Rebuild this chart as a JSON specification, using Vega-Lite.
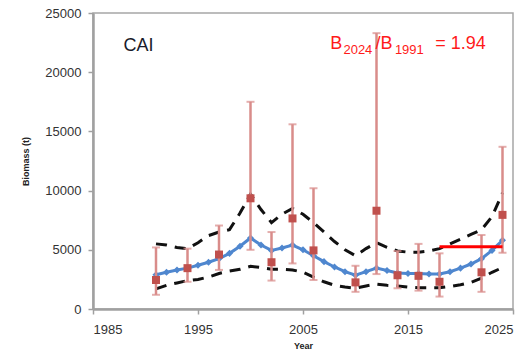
{
  "$schema": "https://vega.github.io/schema/vega-lite/v6.json",
  "width": 420,
  "height": 296,
  "autosize": "none",
  "padding": {"left": 93, "top": 13, "right": 14, "bottom": 49},
  "background": "white",
  "config": {
    "font": "Liberation Sans",
    "view": {"stroke": "#a6a6a6", "strokeWidth": 1.5},
    "axis": {
      "grid": false,
      "domainColor": "#a0a0a0",
      "domainWidth": 2.5,
      "tickColor": "#a0a0a0",
      "tickWidth": 1.5,
      "tickSize": 5,
      "labelFont": "Liberation Sans",
      "labelFontSize": 13,
      "labelColor": "#333333",
      "labelPadding": 7,
      "titleFont": "Liberation Sans",
      "titleFontSize": 9,
      "titleFontWeight": "bold",
      "titleColor": "#222222"
    }
  },
  "datasets": {
    "model": [
      {"year": 1991, "est": 2900, "lo": 1700, "hi": 5500},
      {"year": 1992, "est": 3100, "lo": 2000, "hi": 5400},
      {"year": 1993, "est": 3300, "lo": 2200, "hi": 5200},
      {"year": 1994, "est": 3450, "lo": 2400, "hi": 5100},
      {"year": 1995, "est": 3700, "lo": 2500, "hi": 5600},
      {"year": 1996, "est": 3950, "lo": 2700, "hi": 6200},
      {"year": 1997, "est": 4250, "lo": 3000, "hi": 6500},
      {"year": 1998, "est": 4700, "lo": 3200, "hi": 6700},
      {"year": 1999, "est": 5300, "lo": 3350, "hi": 8100},
      {"year": 2000, "est": 6000, "lo": 3600, "hi": 9700},
      {"year": 2001, "est": 5400, "lo": 3500, "hi": 8400},
      {"year": 2002, "est": 4950, "lo": 3350, "hi": 7300},
      {"year": 2003, "est": 5150, "lo": 3350, "hi": 8000},
      {"year": 2004, "est": 5400, "lo": 3300, "hi": 8500},
      {"year": 2005, "est": 5000, "lo": 3100, "hi": 8000},
      {"year": 2006, "est": 4500, "lo": 2700, "hi": 7300},
      {"year": 2007, "est": 4000, "lo": 2300, "hi": 6500},
      {"year": 2008, "est": 3550, "lo": 2000, "hi": 5700},
      {"year": 2009, "est": 3150, "lo": 1850, "hi": 5000},
      {"year": 2010, "est": 2850, "lo": 1750, "hi": 4500},
      {"year": 2011, "est": 3150, "lo": 1950, "hi": 5100},
      {"year": 2012, "est": 3450, "lo": 2100, "hi": 5600},
      {"year": 2013, "est": 3250, "lo": 2000, "hi": 5200},
      {"year": 2014, "est": 3050, "lo": 1950, "hi": 4900},
      {"year": 2015, "est": 3000, "lo": 1850, "hi": 4800},
      {"year": 2016, "est": 3000, "lo": 1800, "hi": 4800},
      {"year": 2017, "est": 2950, "lo": 1800, "hi": 4900},
      {"year": 2018, "est": 2950, "lo": 1800, "hi": 5100},
      {"year": 2019, "est": 3150, "lo": 1900, "hi": 5500},
      {"year": 2020, "est": 3450, "lo": 2050, "hi": 5900},
      {"year": 2021, "est": 3800, "lo": 2250, "hi": 6300},
      {"year": 2022, "est": 4250, "lo": 2600, "hi": 6700},
      {"year": 2023, "est": 4950, "lo": 3100, "hi": 7800},
      {"year": 2024, "est": 5800, "lo": 3500, "hi": 9800}
    ],
    "survey": [
      {"year": 1991, "obs": 2450, "lo": 1200, "hi": 5200},
      {"year": 1994, "obs": 3450, "lo": 2300, "hi": 5100},
      {"year": 1997, "obs": 4600, "lo": 3300, "hi": 7050},
      {"year": 2000, "obs": 9350, "lo": 5000, "hi": 17500},
      {"year": 2002, "obs": 3950, "lo": 2400, "hi": 6500},
      {"year": 2004, "obs": 7650, "lo": 3850, "hi": 15600},
      {"year": 2006, "obs": 4950, "lo": 2450, "hi": 10200},
      {"year": 2010, "obs": 2250, "lo": 1450, "hi": 3650},
      {"year": 2012, "obs": 8300, "lo": 2950, "hi": 23300},
      {"year": 2014, "obs": 2850, "lo": 1750, "hi": 4900},
      {"year": 2016, "obs": 2800, "lo": 1550, "hi": 5500},
      {"year": 2018, "obs": 2300, "lo": 1050, "hi": 4700},
      {"year": 2022, "obs": 3100, "lo": 1450, "hi": 6250},
      {"year": 2024, "obs": 7950, "lo": 4750, "hi": 13700}
    ],
    "ref": [
      {"year": 2018, "value": 5250},
      {"year": 2024, "value": 5250}
    ],
    "mainText": [
      {"label": "CAI", "year": 1987.9, "value": 21800, "group": "title"},
      {"label": "B", "year": 2007.6, "value": 21950, "group": "ratio"},
      {"label": "/B", "year": 2011.9, "value": 21950, "group": "ratio"},
      {"label": "= 1.94", "year": 2017.6, "value": 21950, "group": "ratio"}
    ],
    "subText": [
      {"label": "2024", "year": 2008.85, "value": 21550},
      {"label": "1991", "year": 2013.75, "value": 21550}
    ]
  },
  "encoding": {
    "x": {
      "type": "quantitative",
      "scale": {"domain": [1985, 2025], "nice": false, "zero": false},
      "axis": {"values": [1985, 1995, 2005, 2015, 2025], "format": "d", "title": "Year", "titlePadding": 5, "labelPadding": 9}
    }
  },
  "layer": [
    {
      "data": {"name": "model"},
      "mark": {"type": "line", "color": "#111111", "strokeWidth": 3, "strokeDash": [11, 8]},
      "encoding": {
        "x": {"field": "year", "type": "quantitative"},
        "y": {
          "field": "hi", "type": "quantitative",
          "scale": {"domain": [0, 25000], "nice": false},
          "axis": {"values": [0, 5000, 10000, 15000, 20000, 25000], "format": "d", "title": "Biomass (t)", "titlePadding": 14}
        }
      }
    },
    {
      "data": {"name": "model"},
      "mark": {"type": "line", "color": "#111111", "strokeWidth": 3, "strokeDash": [11, 8]},
      "encoding": {
        "x": {"field": "year", "type": "quantitative"},
        "y": {"field": "lo", "type": "quantitative"}
      }
    },
    {
      "data": {"name": "model"},
      "mark": {"type": "line", "color": "#4F87CF", "strokeWidth": 3, "point": {"shape": "diamond", "size": 50, "filled": true, "color": "#4F87CF"}},
      "encoding": {
        "x": {"field": "year", "type": "quantitative"},
        "y": {"field": "est", "type": "quantitative"}
      }
    },
    {
      "data": {"name": "survey"},
      "mark": {"type": "rule", "color": "#D98C8A", "strokeWidth": 2.5},
      "encoding": {
        "x": {"field": "year", "type": "quantitative"},
        "y": {"field": "lo", "type": "quantitative"},
        "y2": {"field": "hi"}
      }
    },
    {
      "data": {"name": "survey"},
      "mark": {"type": "tick", "orient": "horizontal", "color": "#D98C8A", "size": 8, "thickness": 2},
      "encoding": {
        "x": {"field": "year", "type": "quantitative"},
        "y": {"field": "hi", "type": "quantitative"}
      }
    },
    {
      "data": {"name": "survey"},
      "mark": {"type": "tick", "orient": "horizontal", "color": "#D98C8A", "size": 8, "thickness": 2},
      "encoding": {
        "x": {"field": "year", "type": "quantitative"},
        "y": {"field": "lo", "type": "quantitative"}
      }
    },
    {
      "data": {"name": "survey"},
      "mark": {"type": "square", "color": "#C0504D", "size": 64, "opacity": 1, "filled": true},
      "encoding": {
        "x": {"field": "year", "type": "quantitative"},
        "y": {"field": "obs", "type": "quantitative"}
      }
    },
    {
      "data": {"name": "ref"},
      "mark": {"type": "line", "color": "#FF0000", "strokeWidth": 3},
      "encoding": {
        "x": {"field": "year", "type": "quantitative"},
        "y": {"field": "value", "type": "quantitative"}
      }
    },
    {
      "data": {"name": "mainText"},
      "mark": {"type": "text", "align": "left", "baseline": "alphabetic", "fontSize": 18, "font": "Liberation Sans"},
      "encoding": {
        "x": {"field": "year", "type": "quantitative"},
        "y": {"field": "value", "type": "quantitative"},
        "text": {"field": "label"},
        "color": {"field": "group", "type": "nominal", "scale": {"domain": ["title", "ratio"], "range": ["#1a1a2a", "#FF1A1A"]}, "legend": null}
      }
    },
    {
      "data": {"name": "subText"},
      "mark": {"type": "text", "align": "left", "baseline": "alphabetic", "fontSize": 13, "font": "Liberation Sans", "color": "#FF1A1A"},
      "encoding": {
        "x": {"field": "year", "type": "quantitative"},
        "y": {"field": "value", "type": "quantitative"},
        "text": {"field": "label"}
      }
    }
  ]
}
